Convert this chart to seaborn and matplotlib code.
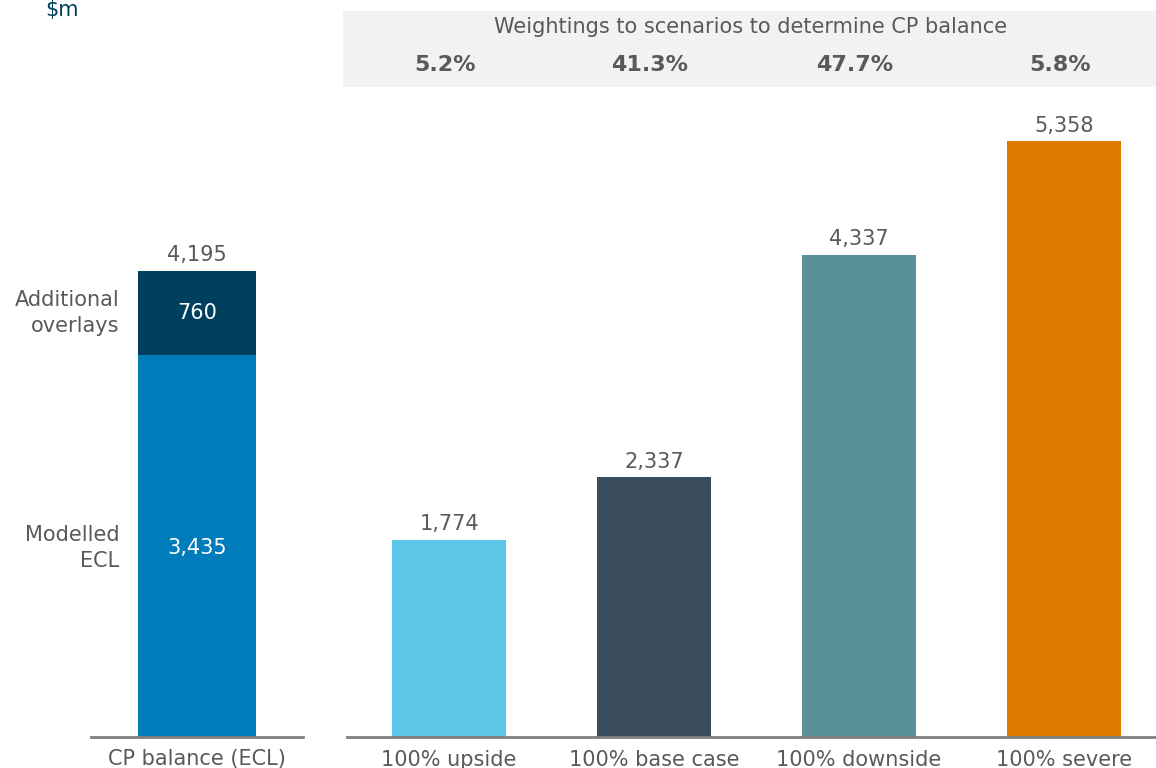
import matplotlib
matplotlib.use("Agg")
import matplotlib.pyplot as plt
import seaborn as sns
import pandas as pd
from matplotlib.patches import Rectangle

sns.set_style("white")
plt.rcParams["font.family"] = ["DejaVu Sans"]

# data
cp_label = ["CP balance (ECL)"]
modelled_ecl = [3435]
overlays = [760]
cp_total = [4195]

scenarios = ["100% upside", "100% base case", "100% downside", "100% severe"]
scenario_values = [1774, 2337, 4337, 5358]
weightings = ["5.2%", "41.3%", "47.7%", "5.8%"]
scenario_colors = ["#5BC6E8", "#3A4D5C", "#5A9199", "#DE7A00"]

txt = "#595959"
fs = 15
ymax = 6628

fig = plt.figure(figsize=(11.56, 7.68), dpi=100)
W, H = 1156, 768
base = 737

def axpos(x0, x1):
    return [x0 / W, 1 - base / H, (x1 - x0) / W, base / H]

ax1 = fig.add_axes(axpos(91, 303))
ax2 = fig.add_axes(axpos(346.5, 1166.5))

# left stacked bar
df1 = pd.DataFrame({"cat": cp_label, "total": cp_total, "mod": modelled_ecl})
sns.barplot(data=df1, x="cat", y="total", color="#00405F", width=0.556,
            saturation=1, linewidth=0, ax=ax1)
sns.barplot(data=df1, x="cat", y="mod", color="#007CBA", width=0.556,
            saturation=1, linewidth=0, ax=ax1)
ax1.text(0, cp_total[0] + 50, f"{cp_total[0]:,}", ha="center", va="bottom",
         fontsize=fs, color=txt)
ax1.text(0, modelled_ecl[0] + overlays[0] / 2, f"{overlays[0]:,}", ha="center",
         va="center", fontsize=fs, color="white")
ax1.text(0, 1700, f"{modelled_ecl[0]:,}", ha="center", va="center",
         fontsize=fs, color="white")
ax1.text(-0.365, modelled_ecl[0] + overlays[0] / 2, "Additional\noverlays",
         ha="right", va="center", fontsize=fs, color=txt, linespacing=1.35)
ax1.text(-0.365, 1700, "Modelled\nECL", ha="right", va="center",
         fontsize=fs, color=txt, linespacing=1.35)

# scenario bars
df2 = pd.DataFrame({"scenario": scenarios, "value": scenario_values})
sns.barplot(data=df2, x="scenario", y="value", hue="scenario",
            palette=scenario_colors, width=0.556, saturation=1, legend=False,
            linewidth=0, ax=ax2)
for i, v in enumerate(scenario_values):
    ax2.text(i, v + 50, f"{v:,}", ha="center", va="bottom", fontsize=fs,
             color=txt)

for ax, n in ((ax1, 1), (ax2, len(scenarios))):
    ax.set_ylim(0, ymax)
    ax.set_xlim(-0.5, n - 0.5)
    ax.set_xlabel("")
    ax.set_ylabel("")
    ax.set_yticks([])
    for s in ["top", "right", "left"]:
        ax.spines[s].set_visible(False)
    ax.spines["bottom"].set_color("#7F7F7F")
    ax.spines["bottom"].set_linewidth(2)
    ax.tick_params(axis="x", length=0, labelsize=fs, labelcolor=txt, pad=9)

# header box with weightings
fig.patches.append(Rectangle((343 / W, 1 - 87 / H), (W - 343) / W, 76 / H,
                             transform=fig.transFigure, facecolor="#F2F2F2",
                             edgecolor="none", zorder=0))
fig.text(751 / W, 1 - 27 / H, "Weightings to scenarios to determine CP balance",
         ha="center", va="center", fontsize=fs, color=txt)
for i, w in enumerate(weightings):
    xc = ax2.transData.transform((i, 0))[0]
    xf = fig.transFigure.inverted().transform((xc - 4, 0))[0]
    fig.text(xf, 1 - 65 / H, w, ha="center", va="center", fontsize=16,
             fontweight="bold", color=txt)

fig.text(45 / W, 1.0, "$m", ha="left", va="top", fontsize=15,
         color="#00405F")

fig.savefig("out.png", dpi=100)
